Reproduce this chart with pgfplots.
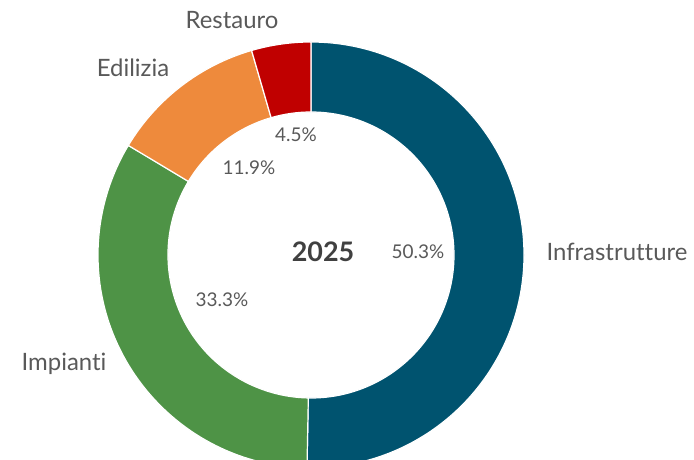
\documentclass[border=0pt]{standalone}
\usepackage{pgfplots}
\pgfplotsset{compat=1.18}
\usepackage{pgfplotstable}
\usepackage{fontspec}
\setmainfont{Lato}[Ligatures={NoCommon}]

\definecolor{infra}{HTML}{00536F}
\definecolor{impi}{HTML}{4E9346}
\definecolor{edil}{HTML}{EE8A3C}
\definecolor{rest}{HTML}{C00000}
\definecolor{txt}{HTML}{595959}

% share for 2025, percent
\pgfplotstableread{
label value
Infrastrutture 50.3
Impianti 33.3
Edilizia 11.9
Restauro 4.5
}\shares

\begin{document}
\begin{tikzpicture}
% cumulative angles, clockwise from the top
\pgfplotstablegetelem{0}{value}\of\shares \let\vA\pgfplotsretval
\pgfplotstablegetelem{1}{value}\of\shares \let\vB\pgfplotsretval
\pgfplotstablegetelem{2}{value}\of\shares \let\vC\pgfplotsretval
\pgfplotstablegetelem{3}{value}\of\shares \let\vD\pgfplotsretval
\pgfmathsetmacro\aA{90}
\pgfmathsetmacro\aB{\aA-3.6*\vA}
\pgfmathsetmacro\aC{\aB-3.6*\vB}
\pgfmathsetmacro\aD{\aC-3.6*\vC}
\pgfmathsetmacro\aE{\aD-3.6*\vD}
\def\R{213}
\def\r{143}
\pgfmathsetmacro\w{\R-\r}
\newcommand\slice[3]{%
  \fill[#3, draw=white, line width=1.2bp] (axis cs:311,205) ++(#1:\R bp)
    arc[start angle=#1, end angle=#2, radius=\R bp]
    -- ++(#2:-\w bp)
    arc[start angle=#2, end angle=#1, radius=\r bp] -- cycle;}
\newcommand\pct[1]{\pgfmathprintnumber[fixed,precision=1,fixed zerofill,assume math mode=true]{#1}\%}
\begin{axis}[
  x=1bp, y=1bp,
  xmin=0, xmax=694, ymin=0, ymax=460,
  hide axis,
  clip=true,
]
\path (axis cs:0,0) rectangle (axis cs:694,460);
\slice{\aA}{\aB}{infra}
\slice{\aB}{\aC}{impi}
\slice{\aC}{\aD}{edil}
\slice{\aD}{\aE}{rest}

\begin{scope}[every node/.style={text=txt, font=\fontsize{24}{29}\selectfont}]
\node at (axis cs:232,440) {Restauro};
\node at (axis cs:133,392) {Edilizia};
\node at (axis cs:617,208) {Infrastrutture};
\node at (axis cs:64,96) {Impianti};
\end{scope}
\begin{scope}[every node/.style={text=txt, font=\fontsize{19}{23}\selectfont}]
\node at (axis cs:296,325) {\pct{\vD}};
\node at (axis cs:249,292) {\pct{\vC}};
\node at (axis cs:418,208) {\pct{\vA}};
\node at (axis cs:222,160) {\pct{\vB}};
\end{scope}
\node[text=black!75, font=\fontsize{27}{32}\selectfont\bfseries] at (axis cs:323,208) {2025};
\end{axis}
\end{tikzpicture}
\end{document}
